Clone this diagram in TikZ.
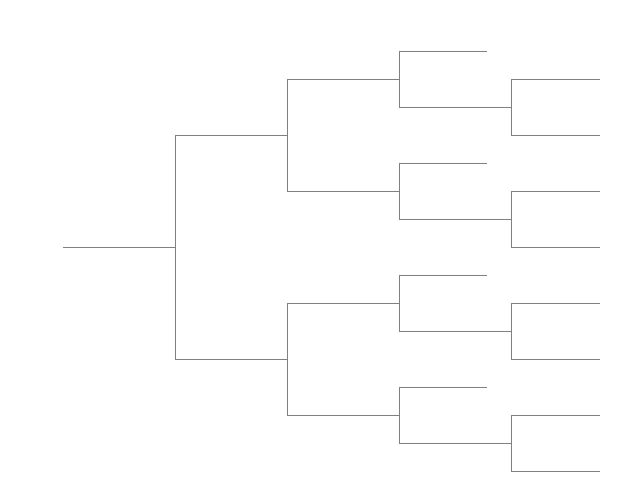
\documentclass[tikz,border=0pt]{standalone}
\usetikzlibrary{calc}
\begin{document}
\begin{tikzpicture}[x=1pt,y=-1pt]
		\tikzstyle{branch}=[draw=gray,line width=0.7pt];
		\useasboundingbox (0,0) rectangle (641,495);
		% root
		\coordinate (r0) at (63,247);
		\coordinate (r) at (175,247);
		\draw[branch] (r0) -- (r);
		\draw[branch] (175,135) -- (175,359);
		% second level
		\foreach \y/\n in {135/a,359/b}{
			\coordinate (\n) at (287,\y);
			\draw[branch] (175,\y) -- (\n);
			\draw[branch] ($(\n)+(0,-56)$) -- ($(\n)+(0,56)$);
		}
		% third level
		\foreach \y in {79,191,303,415}{
			\draw[branch] (287,\y) -- (399,\y);
			\draw[branch] (399,\y-28) -- (399,\y+28);
			\draw[branch] (399,\y-28) -- (487,\y-28);
			\draw[branch] (399,\y+28) -- (511,\y+28);
			\draw[branch] (511,\y) -- (511,\y+56);
			\draw[branch] (511,\y) -- (600,\y);
			\draw[branch] (511,\y+56) -- (600,\y+56);
		}
	\end{tikzpicture}
\end{document}
